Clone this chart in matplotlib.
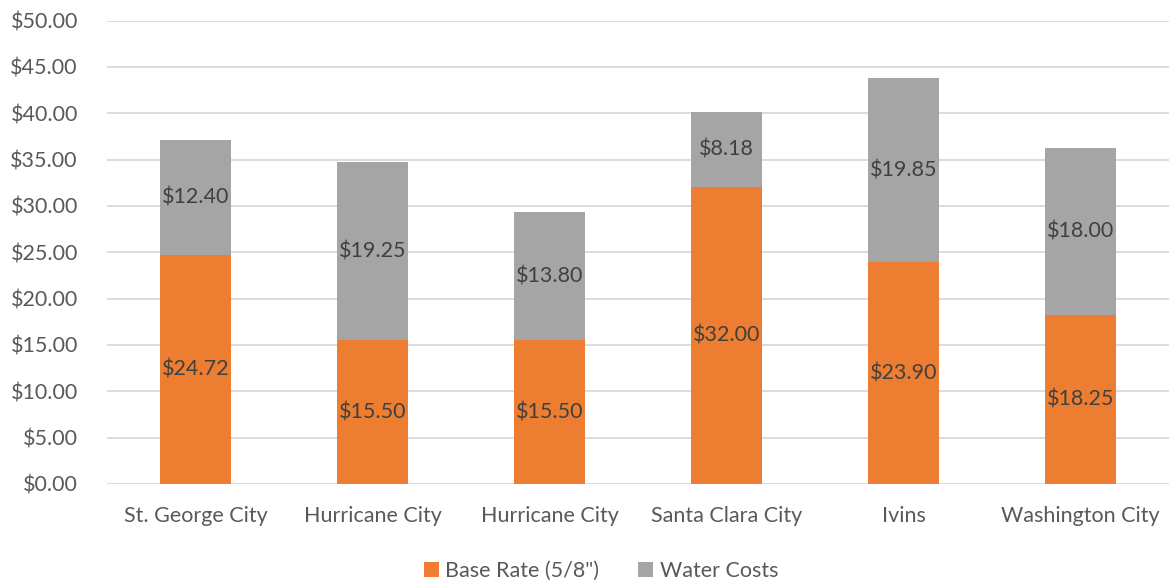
import matplotlib
matplotlib.use("Agg")
import matplotlib.pyplot as plt
import numpy as np

# Chart data
cities = ["St. George City", "Hurricane City", "Hurricane City",
          "Santa Clara City", "Ivins", "Washington City"]
base_rate = [24.72, 15.50, 15.50, 32.00, 23.90, 18.25]
water_costs = [12.40, 19.25, 13.80, 8.18, 19.85, 18.00]
series_names = ['Base Rate (5/8")', "Water Costs"]

text_color = "#595959"
orange = "#ED7D31"
gray = "#A5A5A5"

plt.rcParams["font.family"] = ["Lato", "DejaVu Sans"]

fig = plt.figure(figsize=(11.69, 5.84), dpi=100)
ax = fig.add_axes([107 / 1169, 1 - 484 / 584, 1 - 107 / 1169, (484 - 20.5) / 584])

x = np.arange(len(cities))
width = 0.4

b1 = ax.bar(x, base_rate, width, color=orange, label=series_names[0], zorder=3)
b2 = ax.bar(x, water_costs, width, bottom=base_rate, color=gray,
            label=series_names[1], zorder=3)

# Value labels centred in each segment
for bars, vals, bottoms in [(b1, base_rate, [0] * len(x)), (b2, water_costs, base_rate)]:
    for bar, v, b in zip(bars, vals, bottoms):
        ax.text(bar.get_x() + bar.get_width() / 2, b + v / 2, f"${v:.2f}",
                ha="center", va="center", fontsize=15.5, color="#404040", zorder=4)

ax.set_xlim(-0.5, len(x) - 0.5)
ax.set_ylim(0, 50)
ax.set_yticks(np.arange(0, 51, 5))
ax.set_yticklabels([f"${t:.2f}" for t in np.arange(0, 51, 5)])
ax.set_xticks(x)
ax.set_xticklabels(cities)

ax.grid(axis="y", color="#D9D9D9", linewidth=1.3, zorder=0)
for s in ax.spines.values():
    s.set_visible(False)
ax.tick_params(axis="both", length=0, labelsize=15.5, colors=text_color)
ax.tick_params(axis="y", pad=21)
ax.tick_params(axis="x", pad=16)

leg = ax.legend(loc="upper center", bbox_to_anchor=(0.5 - 37 / 1062, -0.124), ncol=2,
                frameon=False, fontsize=15.5, handlelength=0.7, handleheight=0.7,
                handletextpad=0.3, columnspacing=1.8)
for t in leg.get_texts():
    t.set_color(text_color)

fig.savefig("out.png", dpi=100)
